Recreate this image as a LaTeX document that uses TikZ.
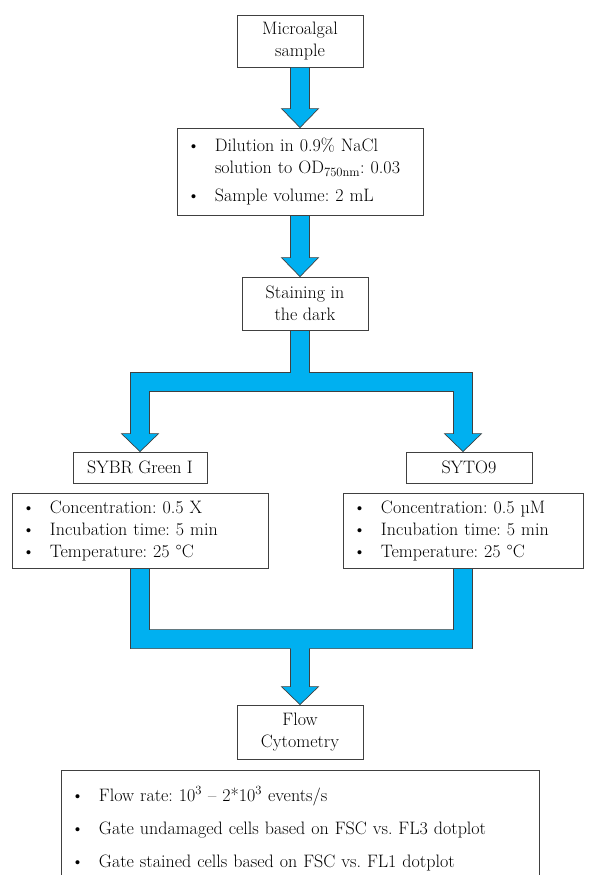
\documentclass[tikz,border=0pt]{standalone}
\usetikzlibrary{calc}
\definecolor{flowblue}{RGB}{0,176,240}
\definecolor{boxline}{RGB}{64,64,64}
\frenchspacing
\tikzset{
  box/.style={draw=boxline, line width=0.8pt, fill=white, align=center, inner sep=0pt,
    font=\fontsize{18}{22}\selectfont},
  listbox/.style={box, align=left, inner xsep=10pt},
  flowarrow/.style={fill=flowblue, draw=boxline, line width=0.7pt},
}
\newcommand\itm{\makebox[28pt][l]{\textbullet}}
\newcommand\blockdown[2]{%
  \draw[flowarrow] ($(#1.south)+(-9.5,0)$) -- ($(#2.north -| #1.south)+(-9.5,-19)$) -- ++(-9,0)
    -- (#2.north -| #1.south) -- ++(18.5,-19) -- ++(-9,0) -- ($(#1.south)+(9.5,0)$) -- cycle;}
\begin{document}
\begin{tikzpicture}[x=1pt, y=-1pt]
  \useasboundingbox (0,0) rectangle (593,875);
  \clip (0,0) rectangle (593,875);
  % boxes
  \node[box, minimum width=126, minimum height=52] (samp) at (300,41) {Microalgal\\sample};
  \node[listbox, text width=226pt, minimum height=87] (dil) at (300,171.5)
    {\itm Dilution in 0.9\% NaCl\\ \hspace*{28pt}solution to OD\textsubscript{750nm}: 0.03\\[6pt]
     \itm Sample volume: 2 mL};
  \node[box, minimum width=126, minimum height=53] (stain) at (305,303.5) {Staining in\\the dark};
  \node[box, minimum width=134, minimum height=31] (sybr) at (140,467.5) {SYBR Green I};
  \node[box, minimum width=126, minimum height=31] (syto) at (469,467.5) {SYTO9};
  \node[listbox, text width=236pt, minimum height=75] (parL) at (140,530.5)
    {\itm Concentration: 0.5 X\\ \itm Incubation time: 5 min\\ \itm Temperature: 25 \textdegree{}C};
  \node[listbox, text width=220pt, minimum height=75] (parR) at (463,530.5)
    {\itm Concentration: 0.5 \textmu M\\ \itm Incubation time: 5 min\\ \itm Temperature: 25 \textdegree{}C};
  \node[box, minimum width=126, minimum height=54] (flow) at (300,732) {Flow\\Cytometry};
  \node[listbox, text width=458pt, anchor=north, inner ysep=16pt, text depth=100pt,
    font=\fontsize{18}{33}\selectfont] (gate) at (300,770)
    {\itm Flow rate: 10\textsuperscript{3} -- 2*10\textsuperscript{3} events/s\\
     \itm Gate undamaged cells based on FSC vs. FL3 dotplot\\
     \itm Gate stained cells based on FSC vs. FL1 dotplot};
  % straight arrows
  \blockdown{samp}{dil}
  \blockdown{dil}{stain}
  % split into the two stains
  \coordinate (barT) at ($(stain.south -| dil.south)+(0,42)$);
  \coordinate (tipL) at (sybr.north -| parL.north);
  \coordinate (tipR) at (syto.north -| parR.north);
  \draw[flowarrow] ($(stain.south -| dil.south)+(-9.5,0)$) -- ($(barT)+(-9.5,0)$)
    -- ($(barT -| tipL)+(-9.5,0)$) -- ($(tipL)+(-9.5,-18)$) -- ++(-9,0) -- (tipL)
    -- ++(18.5,-18) -- ++(-9,0) -- ($(barT -| tipL)+(9.5,19)$) -- ($(barT -| tipR)+(-9.5,19)$)
    -- ($(tipR)+(-9.5,-18)$) -- ++(-9,0) -- (tipR) -- ++(18.5,-18) -- ++(-9,0)
    -- ($(barT -| tipR)+(9.5,0)$) -- ($(barT)+(9.5,0)$) -- ($(stain.south -| dil.south)+(9.5,0)$) -- cycle;
  % merge into flow cytometry
  \coordinate (barB) at ($(flow.north)+(0,-75)$);
  \draw[flowarrow] ($(parL.south)+(-9.5,0)$) -- ($(barB -| parL.south)+(-9.5,19)$)
    -- ($(barB)+(-9.5,19)$) -- ($(flow.north)+(-9.5,-18)$) -- ++(-9,0) -- (flow.north)
    -- ++(18.5,-18) -- ++(-9,0) -- ($(barB)+(9.5,19)$) -- ($(barB -| parR.south)+(9.5,19)$)
    -- ($(parR.south)+(9.5,0)$) -- ++(-19,0) -- ($(barB -| parR.south)+(-9.5,0)$)
    -- ($(barB -| parL.south)+(9.5,0)$) -- ($(parL.south)+(9.5,0)$) -- cycle;
\end{tikzpicture}
\end{document}
